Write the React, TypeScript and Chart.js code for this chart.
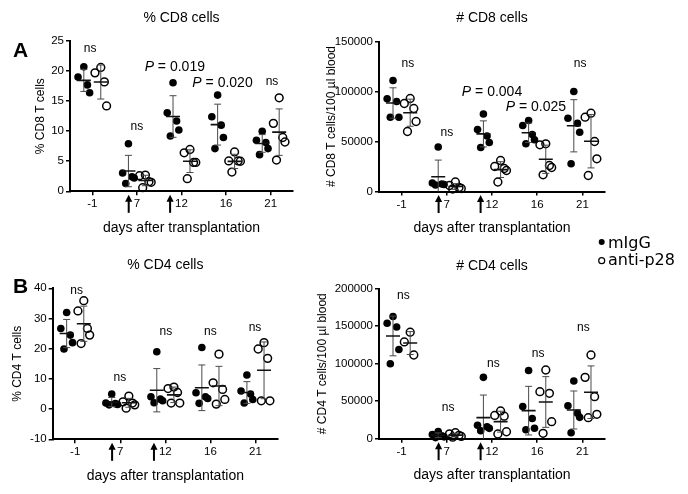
import React, { useEffect, useRef } from 'react';
import { Chart, registerables } from 'chart.js';

Chart.register(...registerables);

const FONT = "'Liberation Sans', Arial, Helvetica, sans-serif";
const LEGEND_FONT = "'DejaVu Sans', 'Liberation Sans', sans-serif";
const CANVAS_W = 688;
const CANVAS_H = 494;

// ---------- shared categories ----------
const DAYS = ['-1', '7', '12', '16', '21'];
const ARROW_DAYS = ['7', '12'];
const SERIES_NAMES = ['mIgG', 'anti-p28'];
const X_TITLE = 'days after transplantation';

// ---------- A: % CD8 T cells ----------
const CD8_PCT_MIGG = [
  [20.7, 19.0, 17.7, 16.4],
  [7.9, 3.05, 2.4, 2.2, 1.3],
  [18.05, 13.05, 11.7, 10.2, 9.2],
  [16.0, 12.4, 11.0, 8.95, 7.1],
  [10.0, 8.5, 8.1, 7.1, 6.1],
];
const CD8_PCT_ANTI = [
  [20.6, 19.7, 18.2, 14.2],
  [2.7, 2.6, 1.6, 1.5, 0.6],
  [6.95, 6.4, 4.8, 4.8, 2.1],
  [6.55, 5.05, 5.05, 5.0, 3.2],
  [15.55, 11.3, 8.95, 8.2, 5.2],
];
const CD8_PCT_Y = [0, 25, 5];
const CD8_PCT_NOTES = [
  { text: 'ns', at: -0.05, value: 23.8 },
  { text: 'P = 0.019', at: 1.85, value: 20.7 },
  { text: 'P = 0.020', at: 2.92, value: 18.0 },
  { text: 'ns', at: 1.0, value: 10.8 },
  { text: 'ns', at: 4.03, value: 18.2 },
];

// ---------- A: # CD8 T cells ----------
const CD8_NUM_MIGG = [
  [111000, 92700, 90000, 74300, 74300],
  [44500, 8500, 7500, 7000, 6500],
  [77500, 62000, 55500, 49000, 44000],
  [71000, 66000, 57000, 51700, 47700],
  [100000, 73300, 68300, 59300, 27700],
];
const CD8_NUM_ANTI = [
  [93000, 88000, 83000, 70000, 60000],
  [9500, 6000, 4000, 3000, 2500],
  [31000, 25000, 23000, 21000, 9500],
  [47700, 46700, 26000, 24000, 16700],
  [78300, 74300, 50000, 32700, 16000],
];
const CD8_NUM_Y = [0, 150000, 50000];
const CD8_NUM_NOTES = [
  { text: 'ns', at: 0.14, value: 128000 },
  { text: 'P = 0.004', at: 2.0, value: 99000 },
  { text: 'P = 0.025', at: 2.97, value: 84000 },
  { text: 'ns', at: 1.0, value: 59000 },
  { text: 'ns', at: 3.95, value: 128000 },
];

// ---------- B: % CD4 T cells ----------
const CD4_PCT_MIGG = [
  [32.0, 26.7, 24.5, 22.0, 19.9],
  [5.0, 2.0, 1.8, 1.5, 1.4],
  [19.0, 4.1, 3.3, 2.75, 2.1],
  [20.4, 5.4, 4.1, 3.5, 1.9],
  [11.3, 6.0, 5.0, 3.2, 2.0],
];
const CD4_PCT_ANTI = [
  [35.9, 32.5, 26.7, 24.5, 21.7],
  [4.3, 2.4, 2.0, 1.4, 0.3],
  [7.3, 6.8, 5.5, 2.0, 2.0],
  [18.2, 8.7, 6.5, 3.2, 1.65],
  [22.0, 19.9, 16.8, 2.75, 2.75],
];
const CD4_PCT_Y = [-10, 40, 10];
const CD4_PCT_NOTES = [
  { text: 'ns', at: 0.03, value: 39.2 },
  { text: 'ns', at: 0.99, value: 10.4 },
  { text: 'ns', at: 2.01, value: 25.6 },
  { text: 'ns', at: 3.0, value: 25.6 },
  { text: 'ns', at: 3.99, value: 26.9 },
];

// ---------- B: # CD4 T cells ----------
const CD4_NUM_MIGG = [
  [163000, 154000, 149000, 119000, 100000],
  [9500, 5500, 4000, 2500, 1500],
  [81800, 18000, 16000, 13800, 10700],
  [91000, 43000, 27000, 14000, 12000],
  [77000, 44000, 34000, 28500, 8000],
];
const CD4_NUM_ANTI = [
  [142000, 129000, 111600],
  [8000, 6500, 4500, 3000, 2000],
  [37000, 31000, 30000, 9300, 6300],
  [91600, 62700, 60500, 22700, 7200],
  [111600, 81800, 56000, 32500, 28000],
];
const CD4_NUM_Y = [0, 200000, 50000];
const CD4_NUM_NOTES = [
  { text: 'ns', at: 0.04, value: 190700 },
  { text: 'ns', at: 1.03, value: 41900 },
  { text: 'ns', at: 2.03, value: 100500 },
  { text: 'ns', at: 3.02, value: 113900 },
  { text: 'ns', at: 4.02, value: 148000 },
];

// ---------- layout / style (not data) ----------
const SERIES_OFFSET = [-0.19, 0.19];
const JITTER = [0, -0.13, 0.08, 0.13, -0.06];
const TICK_SIZE = 11.5;
const Y_TITLE_SIZE = 12;
const X_TITLE_SIZE = 14;
const X_AXIS_HEIGHT = 45;

type Note = { text: string; at: number; value: number };
type PanelDef = {
  key: string;
  title: string;
  yTitle: string;
  series: number[][][];
  yRange: number[];
  notes: Note[];
  box: { left: number; right: number; top: number; bottom: number; yTitleX: number };
  letter?: { text: string; x: number; y: number };
  legend?: boolean;
};

const PANELS: PanelDef[] = [
  {
    key: 'cd8pct', title: '% CD8 cells', yTitle: '% CD8 T cells',
    series: [CD8_PCT_MIGG, CD8_PCT_ANTI], yRange: CD8_PCT_Y, notes: CD8_PCT_NOTES,
    box: { left: 70, right: 293, top: 41, bottom: 191.3, yTitleX: 41 },
    letter: { text: 'A', x: 13, y: 57 },
  },
  {
    key: 'cd8num', title: '# CD8 cells', yTitle: '# CD8 T cells/100 µl blood',
    series: [CD8_NUM_MIGG, CD8_NUM_ANTI], yRange: CD8_NUM_Y, notes: CD8_NUM_NOTES,
    box: { left: 379, right: 605, top: 41.5, bottom: 191.5, yTitleX: 332 },
    legend: true,
  },
  {
    key: 'cd4pct', title: '% CD4 cells', yTitle: '% CD4 T cells',
    series: [CD4_PCT_MIGG, CD4_PCT_ANTI], yRange: CD4_PCT_Y, notes: CD4_PCT_NOTES,
    box: { left: 52.7, right: 278, top: 288.3, bottom: 439.3, yTitleX: 18 },
    letter: { text: 'B', x: 13, y: 293 },
  },
  {
    key: 'cd4num', title: '# CD4 cells', yTitle: '# CD4 T cells/100 µl blood',
    series: [CD4_NUM_MIGG, CD4_NUM_ANTI], yRange: CD4_NUM_Y, notes: CD4_NUM_NOTES,
    box: { left: 379, right: 605, top: 288.7, bottom: 438.7, yTitleX: 323 },
  },
];

function mean(v: number[]) {
  return v.reduce((a, b) => a + b, 0) / v.length;
}
function sd(v: number[]) {
  if (v.length < 2) return 0;
  const m = mean(v);
  return Math.sqrt(v.reduce((a, b) => a + (b - m) * (b - m), 0) / (v.length - 1));
}

function makeDecor(p: PanelDef) {
  return {
    id: 'decor_' + p.key,
    afterDatasetsDraw(chart: any) {
      const { ctx, chartArea } = chart;
      const xs = chart.scales.x;
      const ys = chart.scales.y;
      const line = (x1: number, y1: number, x2: number, y2: number) => {
        ctx.beginPath();
        ctx.moveTo(x1, y1);
        ctx.lineTo(x2, y2);
        ctx.stroke();
      };
      // mean ± SD bars
      ctx.save();
      ctx.beginPath();
      ctx.rect(chartArea.left, chartArea.top - 10, chartArea.right - chartArea.left, chartArea.bottom - chartArea.top + 10);
      ctx.clip();
      p.series.forEach((groups, si) => {
        groups.forEach((vals, gi) => {
          if (!vals.length) return;
          const m = mean(vals);
          const s = sd(vals);
          const cx = xs.getPixelForValue(gi + SERIES_OFFSET[si]);
          const yT = ys.getPixelForValue(m + s);
          const yB = ys.getPixelForValue(m - s);
          const yM = ys.getPixelForValue(m);
          ctx.strokeStyle = '#4a4a4a';
          ctx.lineWidth = 1;
          line(cx, yT, cx, yB);
          line(cx - 3.5, yT, cx + 3.5, yT);
          line(cx - 3.5, yB, cx + 3.5, yB);
          ctx.strokeStyle = '#111';
          ctx.lineWidth = 1.6;
          line(cx - 7, yM, cx + 7, yM);
        });
      });
      ctx.restore();

      // annotations (ns / P values)
      ctx.save();
      ctx.fillStyle = '#000';
      ctx.textBaseline = 'middle';
      p.notes.forEach((n) => {
        const x = xs.getPixelForValue(n.at);
        const y = ys.getPixelForValue(n.value);
        if (n.text.startsWith('P ')) {
          const italic = `italic 14px ${FONT}`;
          const normal = `14px ${FONT}`;
          const rest = n.text.slice(1);
          ctx.font = italic;
          const w1 = ctx.measureText('P').width;
          ctx.font = normal;
          const w2 = ctx.measureText(rest).width;
          const x0 = x - (w1 + w2) / 2;
          ctx.textAlign = 'left';
          ctx.font = italic;
          ctx.fillText('P', x0, y);
          ctx.font = normal;
          ctx.fillText(rest, x0 + w1, y);
        } else {
          ctx.font = `12px ${FONT}`;
          ctx.textAlign = 'center';
          ctx.fillText(n.text, x, y);
        }
      });
      ctx.restore();
    },
    afterDraw(chart: any) {
      const { ctx, chartArea } = chart;
      const xs = chart.scales.x;
      ctx.save();
      ctx.fillStyle = '#000';
      // panel title
      ctx.font = `14px ${FONT}`;
      ctx.textAlign = 'center';
      ctx.textBaseline = 'middle';
      ctx.fillText(p.title, (chartArea.left + chartArea.right) / 2, chartArea.top - 23);
      // injection arrows beside day labels
      ctx.font = `${TICK_SIZE}px ${FONT}`;
      ARROW_DAYS.forEach((d) => {
        const i = DAYS.indexOf(d);
        const tx = xs.getPixelForValue(i);
        const w = ctx.measureText(d).width;
        const ax = tx - w / 2 - 5;
        const y0 = chartArea.bottom + 3.5;
        ctx.beginPath();
        ctx.moveTo(ax, y0);
        ctx.lineTo(ax - 3.6, y0 + 7);
        ctx.lineTo(ax + 3.6, y0 + 7);
        ctx.closePath();
        ctx.fill();
        ctx.fillRect(ax - 1, y0 + 6, 2, 12);
      });
      // panel letter
      if (p.letter) {
        ctx.font = `bold 21px ${FONT}`;
        ctx.textAlign = 'left';
        ctx.textBaseline = 'alphabetic';
        ctx.fillText(p.letter.text, p.letter.x, p.letter.y);
      }
      // legend
      if (p.legend) {
        ctx.font = `16px ${LEGEND_FONT}`;
        ctx.textAlign = 'left';
        ctx.textBaseline = 'alphabetic';
        const items = [
          { y: 242, base: 248.3 },
          { y: 260.7, base: 265 },
        ];
        SERIES_NAMES.forEach((name, si) => {
          const it = items[si];
          ctx.beginPath();
          ctx.arc(601.7, it.y, 3, 0, Math.PI * 2);
          if (si === 0) {
            ctx.fill();
          } else {
            ctx.lineWidth = 1.2;
            ctx.strokeStyle = '#000';
            ctx.stroke();
          }
          ctx.fillText(name, 608, it.base);
        });
      }
      ctx.restore();
    },
  };
}

function buildConfig(p: PanelDef): any {
  const [yMin, yMax, yStep] = p.yRange;
  const b = p.box;
  const padLeft = b.yTitleX - (Y_TITLE_SIZE * 1.2) / 2;
  const yWidth = b.left - padLeft;
  const datasets = p.series.map((groups, si) => ({
    label: SERIES_NAMES[si],
    data: groups.flatMap((vals, gi) =>
      vals.map((v, k) => ({ x: gi + SERIES_OFFSET[si] + JITTER[k % JITTER.length], y: v }))
    ),
    pointRadius: si === 0 ? 3.8 : 3.9,
    pointHoverRadius: si === 0 ? 3.8 : 3.9,
    pointBackgroundColor: si === 0 ? '#000' : 'rgba(0,0,0,0)',
    backgroundColor: si === 0 ? '#000' : 'rgba(0,0,0,0)',
    pointBorderColor: '#000',
    borderColor: '#000',
    pointBorderWidth: si === 0 ? 0 : 1.5,
    showLine: false,
    clip: false,
  }));
  return {
    type: 'scatter',
    data: { datasets },
    options: {
      responsive: false,
      animation: false,
      devicePixelRatio: 1,
      events: [],
      layout: {
        padding: {
          left: padLeft,
          right: CANVAS_W - b.right,
          top: b.top,
          bottom: CANVAS_H - b.bottom - X_AXIS_HEIGHT,
        },
      },
      plugins: {
        legend: { display: false },
        tooltip: { enabled: false },
        title: { display: false },
      },
      scales: {
        x: {
          type: 'linear',
          min: -0.5,
          max: DAYS.length - 0.5,
          afterBuildTicks: (s: any) => {
            s.ticks = DAYS.map((_, i) => ({ value: i }));
          },
          afterFit: (s: any) => {
            s.height = X_AXIS_HEIGHT;
          },
          ticks: {
            callback: (v: number) => DAYS[Math.round(v)],
            font: { family: FONT, size: TICK_SIZE },
            color: '#000',
            padding: 2,
            autoSkip: false,
            maxRotation: 0,
            minRotation: 0,
          },
          grid: { display: true, drawOnChartArea: false, drawTicks: true, tickLength: 4, color: '#000', lineWidth: 1.5 },
          border: { display: true, color: '#000', width: 2 },
          title: { display: true, text: X_TITLE, color: '#000', font: { family: FONT, size: X_TITLE_SIZE }, padding: 0 },
        },
        y: {
          type: 'linear',
          min: yMin,
          max: yMax,
          afterFit: (s: any) => {
            s.width = yWidth;
          },
          ticks: {
            stepSize: yStep,
            callback: (v: number) => String(v),
            font: { family: FONT, size: TICK_SIZE },
            color: '#000',
            padding: 2,
          },
          grid: { display: true, drawOnChartArea: false, drawTicks: true, tickLength: 4, color: '#000', lineWidth: 1.5 },
          border: { display: true, color: '#000', width: 2 },
          title: { display: true, text: p.yTitle, color: '#000', font: { family: FONT, size: Y_TITLE_SIZE }, padding: 0 },
        },
      },
    },
    plugins: [makeDecor(p)],
  };
}

export default function App() {
  const refs = useRef<(HTMLCanvasElement | null)[]>([]);
  useEffect(() => {
    const charts = PANELS.map((p, i) => new Chart(refs.current[i] as HTMLCanvasElement, buildConfig(p)));
    return () => charts.forEach((c) => c.destroy());
  }, []);
  return (
    <div
      style={{
        position: 'fixed',
        left: 0,
        top: 0,
        width: CANVAS_W,
        height: CANVAS_H,
        background: '#fff',
        overflow: 'hidden',
      }}
    >
      {PANELS.map((p, i) => (
        <canvas
          key={p.key}
          ref={(el) => {
            refs.current[i] = el;
          }}
          width={CANVAS_W}
          height={CANVAS_H}
          style={{ position: 'absolute', left: 0, top: 0, width: CANVAS_W, height: CANVAS_H }}
        />
      ))}
    </div>
  );
}
